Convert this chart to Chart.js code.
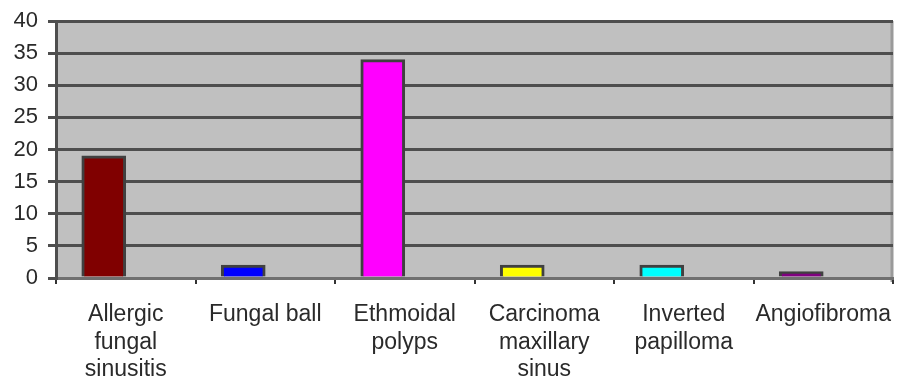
<!DOCTYPE html>
<html>
<head>
<meta charset="utf-8">
<style>
  html, body { margin: 0; padding: 0; background: #ffffff; }
  #wrap { width: 899px; height: 379px; }
</style>
<script src="https://cdn.jsdelivr.net/npm/chart.js@4/dist/chart.umd.min.js"></script>
</head>
<body>
<div id="wrap"><canvas id="chart" width="899" height="379"></canvas></div>
<script>
// Diagnoses (multi-line labels) and number of cases
const categories = [
  ["Allergic", "fungal", "sinusitis"],
  ["Fungal ball"],
  ["Ethmoidal", "polyps"],
  ["Carcinoma", "maxillary", "sinus"],
  ["Inverted", "papilloma"],
  ["Angiofibroma"]
];
const cases = [19, 2, 34, 2, 2, 1];
// Second series of the workbook carries no values; it only reserves its slot
const secondSeries = [];
const barColors = ["#800000", "#0000ff", "#ff00ff", "#ffff00", "#00ffff", "#800080"];
const yMin = 0, yMax = 40, yStep = 5;

const FONT = "'Liberation Sans', Arial, sans-serif";

// Grey plot-area fill and its right-hand frame line
const plotBackground = {
  id: 'plotBackground',
  beforeDraw(chart) {
    const { ctx, chartArea: a } = chart;
    ctx.save();
    ctx.fillStyle = '#c0c0c0';
    ctx.fillRect(a.left, a.top, a.right - a.left, a.bottom - a.top);
    ctx.strokeStyle = '#9a9a9a';
    ctx.lineWidth = 3;
    ctx.beginPath();
    ctx.moveTo(a.right - 1, a.top);
    ctx.lineTo(a.right - 1, a.bottom + 4);
    ctx.stroke();
    ctx.restore();
  }
};

new Chart(document.getElementById('chart'), {
  type: 'bar',
  data: {
    labels: categories,
    datasets: [
      {
        label: 'Cases',
        data: cases,
        backgroundColor: barColors,
        borderColor: '#404040',
        borderWidth: 3,
        borderSkipped: 'bottom',
        barThickness: 44
      },
      {
        label: 'Series 2',
        data: secondSeries,
        barThickness: 44
      }
    ]
  },
  options: {
    responsive: false,
    animation: false,
    layout: { padding: { top: 21, right: 6, left: 0, bottom: 0 } },
    plugins: {
      legend: { display: false },
      tooltip: { enabled: false }
    },
    scales: {
      x: {
        offset: true,
        grid: {
          offset: true,
          drawOnChartArea: false,
          drawTicks: true,
          tickLength: 6,
          color: '#333333',
          lineWidth: 2
        },
        border: { display: true, color: '#707070', width: 3 },
        ticks: {
          autoSkip: false,
          maxRotation: 0,
          minRotation: 0,
          padding: 17,
          color: '#2a2a2a',
          font: { family: FONT, size: 23, lineHeight: 1.2 }
        },
        afterFit(scale) {
          scale.height = 101;
          scale.paddingLeft = 0;
          scale.paddingRight = 0;
        }
      },
      y: {
        min: yMin,
        max: yMax,
        ticks: {
          stepSize: yStep,
          padding: 10,
          color: '#2a2a2a',
          font: { family: FONT, size: 22 }
        },
        grid: {
          color: '#4e4e4e',
          lineWidth: 3,
          drawTicks: true,
          tickLength: 8
        },
        border: { display: true, color: '#4e4e4e', width: 3 },
        afterFit(scale) {
          scale.width = 56;
          scale.paddingTop = 0;
          scale.paddingBottom = 0;
        }
      }
    }
  },
  plugins: [plotBackground]
});
</script>
</body>
</html>
